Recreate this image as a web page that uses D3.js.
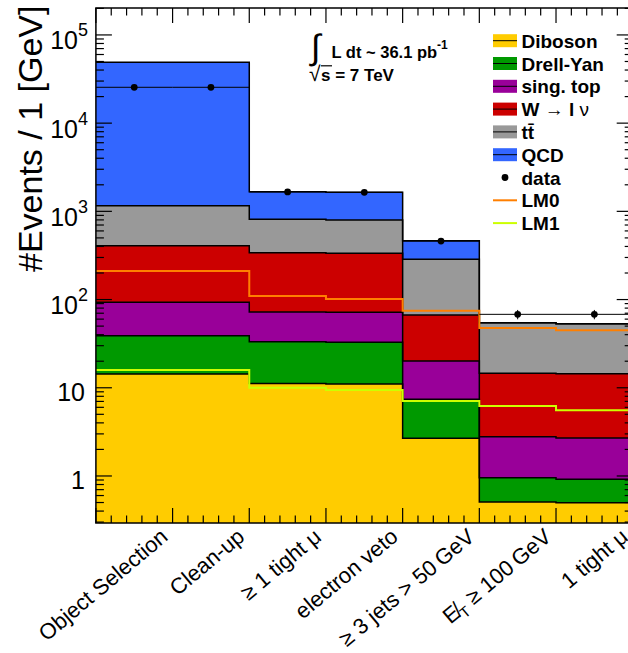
<!DOCTYPE html>
<html>
<head>
<meta charset="utf-8">
<script src="https://cdn.jsdelivr.net/npm/d3@7"></script>
<style>
  body { margin: 0; background: #fff; }
  svg { display: block; }
  text { font-family: "Liberation Sans", Arial, Helvetica, sans-serif; fill: #000; }
</style>
</head>
<body>
<svg id="chart" width="628" height="653"></svg>
<script>
// Cut-flow bins
const categories = ["Object Selection", "Clean-up", "\u2265 1 tight \u03bc", "electron veto",
                    "\u2265 3 jets > 50\u2009GeV", "ET \u2265 100\u2009GeV", "1 tight \u03bc"];

// Background expectations per bin (events), stacked bottom to top
const diboson  = [14.3, 14.3, 11.2, 11.0, 2.68, 0.507, 0.498];
const drellYan = [24.7, 24.7, 22.1, 21.8, 4.73, 0.45, 0.42];
const singTop  = [54.2, 54.2, 39.0, 39.0, 12.7, 1.83, 1.78];
const wlnu     = [315, 315, 268, 263, 46.8, 11.8, 11.7];
const ttbar    = [753, 753, 473, 465, 219, 40.1, 38.9];
const qcd      = [47800, 47800, 859, 845, 179, 0, 0];

// Observed events and signal benchmarks
const data = [25500, 25500, 1660, 1645, 460, 68, 68];
const lm0  = [211, 211, 110, 101.6, 74.8, 47.6, 44.9];
const lm1  = [15.9, 15.9, 10.0, 9.45, 7.08, 6.22, 5.56];

// Axis ticks
const yMajorTicks = [1, 10, 100, 1e3, 1e4, 1e5];
const yTickLabels = ["1", "10", "10^2", "10^3", "10^4", "10^5"];
const yMinorMultipliers = [2, 3, 4, 5, 6, 7, 8, 9];

// Legend
const legendLabels = ["Diboson", "Drell-Yan", "sing. top", "W \u2192 l \u03bd", "t t\u0304", "QCD", "data", "LM0", "LM1"];

const keys = ["diboson", "drellYan", "singTop", "wlnu", "ttbar", "qcd"];
const colors = {
  diboson: "#ffcc00", drellYan: "#009900", singTop: "#990099",
  wlnu: "#cc0000", ttbar: "#999999", qcd: "#3366ff"
};
const lm0Color = "#ff7f00", lm1Color = "#ccff00";

const svg = d3.select("#chart");
const frame = { left: 95.9, right: 632.7, top: 8, bottom: 523 };

const x = d3.scaleBand().domain(d3.range(categories.length))
  .range([frame.left, frame.right]).paddingInner(0).paddingOuter(0);
const yMin = 0.293, yMax = 2.02e5;
const y = d3.scaleLog().domain([yMin, yMax]).range([frame.bottom, frame.top]);
const yc = v => y(Math.max(v, yMin));

svg.append("clipPath").attr("id", "plotclip").append("rect")
  .attr("x", frame.left).attr("y", frame.top)
  .attr("width", frame.right - frame.left).attr("height", frame.bottom - frame.top);

const plot = svg.append("g").attr("clip-path", "url(#plotclip)");

// Stack the backgrounds
const rows = categories.map((c, i) => ({
  diboson: diboson[i], drellYan: drellYan[i], singTop: singTop[i],
  wlnu: wlnu[i], ttbar: ttbar[i], qcd: qcd[i]
}));
const stacked = d3.stack().keys(keys)(rows);

// step points: two per bin (left and right edge)
function stepPoints(lo, hi) {
  const pts = [];
  categories.forEach((c, i) => {
    pts.push({ x: x(i), lo: lo(i), hi: hi(i) });
    pts.push({ x: x(i) + x.bandwidth(), lo: lo(i), hi: hi(i) });
  });
  return pts;
}

const area = d3.area().x(d => d.x).y0(d => yc(d.lo)).y1(d => yc(d.hi));
const line = d3.line().x(d => d.x).y(d => yc(d.hi));

stacked.forEach(layer => {
  const pts = stepPoints(i => layer[i][0], i => layer[i][1]);
  plot.append("path").attr("d", area(pts)).attr("fill", colors[layer.key]).attr("stroke", "none");
});
stacked.forEach(layer => {
  const pts = stepPoints(i => 0, i => layer[i][1]);
  plot.append("path").attr("d", line(pts)).attr("fill", "none")
    .attr("stroke", "#000").attr("stroke-width", 1.5);
});

// Signal benchmark lines
[[lm0, lm0Color], [lm1, lm1Color]].forEach(([vals, col]) => {
  const pts = stepPoints(i => 0, i => vals[i]);
  plot.append("path").attr("d", line(pts)).attr("fill", "none")
    .attr("stroke", col).attr("stroke-width", 2);
});

// Data points with bin-width bars and Poisson errors
const dg = plot.append("g");
data.forEach((v, i) => {
  const cx = x(i) + x.bandwidth() / 2;
  dg.append("line").attr("x1", x(i)).attr("x2", x(i) + x.bandwidth())
    .attr("y1", y(v)).attr("y2", y(v)).attr("stroke", "#000").attr("stroke-width", 1);
  const e = Math.sqrt(v);
  dg.append("line").attr("x1", cx).attr("x2", cx)
    .attr("y1", y(v + e)).attr("y2", y(v - e)).attr("stroke", "#000").attr("stroke-width", 1);
  dg.append("circle").attr("cx", cx).attr("cy", y(v)).attr("r", 3.4).attr("fill", "#000");
});

// Frame
svg.append("rect").attr("x", frame.left).attr("y", frame.top)
  .attr("width", frame.right - frame.left).attr("height", frame.bottom - frame.top)
  .attr("fill", "none").attr("stroke", "#000").attr("stroke-width", 1.5);

// Y ticks (left and right)
const tg = svg.append("g").attr("stroke", "#000").attr("stroke-width", 1.2);
const minorY = [];
for (let e = -1; e <= 5; e++) yMinorMultipliers.forEach(k => {
  const v = k * Math.pow(10, e);
  if (v > yMin && v < yMax) minorY.push(v);
});
yMajorTicks.forEach(v => {
  tg.append("line").attr("x1", frame.left).attr("x2", frame.left + 16).attr("y1", y(v)).attr("y2", y(v));
  tg.append("line").attr("x1", frame.right).attr("x2", frame.right - 16).attr("y1", y(v)).attr("y2", y(v));
});
minorY.forEach(v => {
  tg.append("line").attr("x1", frame.left).attr("x2", frame.left + 8).attr("y1", y(v)).attr("y2", y(v));
  tg.append("line").attr("x1", frame.right).attr("x2", frame.right - 8).attr("y1", y(v)).attr("y2", y(v));
});

// X ticks (bottom and top), major at bin edges, 5 divisions per bin
const bw = x.bandwidth();
for (let i = 0; i <= categories.length; i++) {
  for (let j = 0; j < 5; j++) {
    if (i === categories.length && j > 0) break;
    const xx = frame.left + i * bw + j * bw / 5;
    const len = j === 0 ? 15 : 7.5;
    tg.append("line").attr("x1", xx).attr("x2", xx).attr("y1", frame.bottom).attr("y2", frame.bottom - len);
    tg.append("line").attr("x1", xx).attr("x2", xx).attr("y1", frame.top).attr("y2", frame.top + len);
  }
}

// Y tick labels
yMajorTicks.forEach((v, i) => {
  const lab = yTickLabels[i];
  const t = svg.append("text").attr("text-anchor", "end").attr("font-size", 25);
  if (lab.includes("^")) {
    const [b, p] = lab.split("^");
    t.attr("x", 88).attr("y", y(v) + 14.5);
    t.append("tspan").text(b);
    t.append("tspan").attr("dy", -13).attr("font-size", 18).text(p);
  } else {
    t.attr("x", 85).attr("y", y(v) + 13).text(lab);
  }
});

// Y title
svg.append("text").attr("transform", "translate(42,272) rotate(-90)")
  .attr("font-size", 34).attr("text-anchor", "start").text("#Events / 1 [GeV]");

// X labels, rotated
categories.forEach((c, i) => {
  const cx = x(i) + bw / 2;
  const t = svg.append("text")
    .attr("transform", `translate(${cx + 35},${539}) rotate(-40)`)
    .attr("text-anchor", "end").attr("font-size", 22);
  if (c.startsWith("ET")) {
    t.append("tspan").text("E\u0338");
    t.append("tspan").attr("font-size", 15).attr("dy", 5).text("T");
    t.append("tspan").attr("dy", -5).text(c.slice(2));
  } else {
    t.text(c);
  }
});

// Luminosity / energy annotation
svg.append("text").attr("x", 311).attr("y", 59).attr("font-size", 35).text("\u222b");
svg.append("text").attr("x", 331.5).attr("y", 57.5).attr("font-size", 16.5).attr("font-weight", "bold")
  .call(t => {
    t.append("tspan").text("L dt ~ 36.1 pb");
    t.append("tspan").attr("dy", -9).attr("font-size", 12).text("-1");
  });
svg.append("text").attr("x", 309).attr("y", 81).attr("font-size", 21).text("\u221a");
svg.append("line").attr("x1", 321).attr("x2", 332).attr("y1", 65.8).attr("y2", 65.8)
  .attr("stroke", "#000").attr("stroke-width", 1.2);
svg.append("text").attr("x", 321).attr("y", 81).attr("font-size", 17).attr("font-weight", "bold")
  .text("s = 7 TeV");

// Legend
const lg = svg.append("g");
const legendFills = [colors.diboson, colors.drellYan, colors.singTop, colors.wlnu, colors.ttbar, colors.qcd];
legendLabels.forEach((lab, i) => {
  const cy = 40.7 + i * 22.8;
  if (i < 6) {
    lg.append("rect").attr("x", 493).attr("y", cy - 6.5).attr("width", 24).attr("height", 13)
      .attr("fill", legendFills[i]);
    lg.append("line").attr("x1", 493).attr("x2", 517).attr("y1", cy).attr("y2", cy)
      .attr("stroke", "#000").attr("stroke-width", 1);
  } else if (i === 6) {
    lg.append("circle").attr("cx", 505).attr("cy", cy).attr("r", 3.4).attr("fill", "#000");
  } else {
    lg.append("line").attr("x1", 493).attr("x2", 517).attr("y1", cy).attr("y2", cy)
      .attr("stroke", i === 7 ? lm0Color : lm1Color).attr("stroke-width", 2);
  }
  const t = lg.append("text").attr("x", 521.5).attr("y", cy + 7).attr("font-size", 19).attr("font-weight", "bold");
  if (i === 3) {
    t.append("tspan").text("W ");
    t.append("tspan").attr("font-weight", "normal").text("\u2192");
    t.append("tspan").text(" l ");
    t.append("tspan").attr("font-weight", "normal").text("\u03bd");
  } else if (i === 4) {
    t.text("tt\u0304");
  } else {
    t.text(lab);
  }
});
</script>
</body>
</html>
